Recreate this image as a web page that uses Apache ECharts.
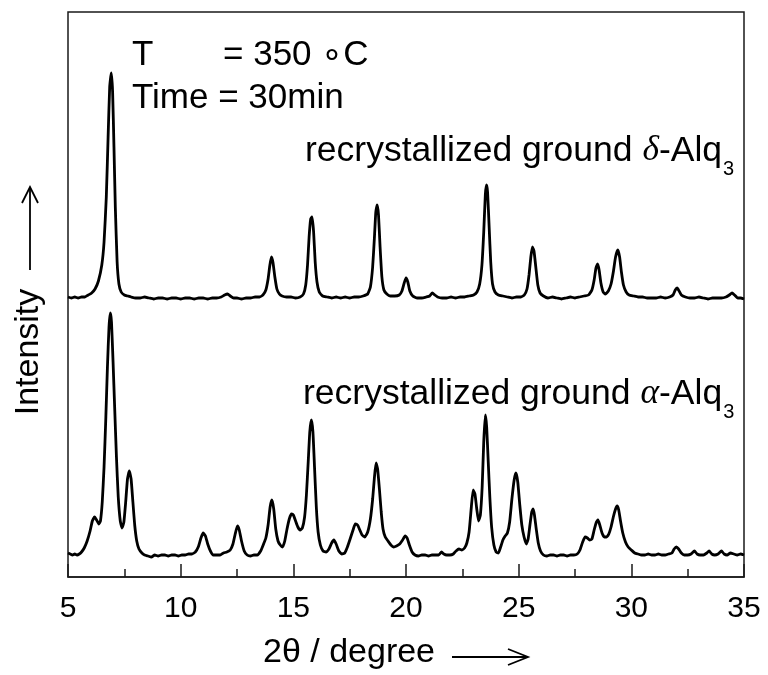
<!DOCTYPE html>
<html>
<head>
<meta charset="utf-8">
<script src="https://cdn.jsdelivr.net/npm/echarts@6/dist/echarts.min.js"></script>
<style>
  html, body { margin: 0; padding: 0; background: #fff; }
  #chart { width: 768px; height: 675px; }
</style>
</head>
<body>
<div id="chart"></div>
<script>
// 2θ (degree) and intensity (arb. units, stacked) for the delta trace (top)
const deltaTheta = [5.0,5.15,5.3,5.45,5.6,5.75,5.9,6.05,6.2,6.35,6.5,6.6,6.7,6.78,6.85,6.92,6.98,7.04,7.1,7.18,7.26,7.36,7.5,7.65,7.8,8.0,8.2,8.4,8.6,8.8,9.0,9.2,9.4,9.6,9.8,10.0,10.2,10.4,10.6,10.8,11.0,11.2,11.4,11.6,11.8,11.95,12.08,12.2,12.35,12.5,12.7,12.9,13.1,13.3,13.5,13.65,13.78,13.88,13.96,14.03,14.1,14.18,14.27,14.38,14.5,14.7,14.9,15.1,15.3,15.45,15.55,15.63,15.7,15.77,15.83,15.9,15.97,16.05,16.15,16.3,16.5,16.7,16.9,17.1,17.3,17.5,17.7,17.9,18.1,18.3,18.42,18.52,18.6,18.66,18.72,18.78,18.85,18.93,19.02,19.15,19.3,19.5,19.7,19.82,19.92,20.0,20.08,20.17,20.3,20.5,20.7,20.9,21.05,21.17,21.28,21.4,21.6,21.8,22.0,22.2,22.4,22.6,22.8,23.0,23.15,23.27,23.37,23.45,23.52,23.57,23.62,23.69,23.76,23.84,23.95,24.1,24.3,24.5,24.7,24.9,25.1,25.25,25.37,25.46,25.54,25.61,25.68,25.76,25.85,25.95,26.1,26.3,26.5,26.7,26.9,27.1,27.3,27.5,27.7,27.9,28.1,28.25,28.35,28.43,28.5,28.57,28.65,28.75,28.85,28.98,29.1,29.2,29.3,29.4,29.48,29.56,29.65,29.77,29.9,30.1,30.3,30.5,30.7,30.9,31.1,31.3,31.5,31.7,31.85,31.95,32.03,32.12,32.22,32.4,32.6,32.8,33.0,33.2,33.4,33.6,33.8,34.0,34.2,34.35,34.47,34.58,34.72,34.85,35.0];
const deltaIntensity = [280,279,280,279,280,280,282,284,288,296,312,335,380,440,490,504,485,430,370,315,293,285,282,281,280,279,279,280,279,278,279,279,278,279,279,278,279,279,278,279,279,278,279,279,280,282,283,281,279,279,278,279,279,280,280,282,287,298,312,320,314,300,288,283,281,280,280,279,280,283,292,312,340,358,360,345,315,295,285,281,280,279,280,279,280,279,280,280,281,283,290,310,340,365,372,362,330,300,287,283,281,281,282,286,294,299,295,286,281,279,279,280,281,284,282,280,279,279,280,279,280,280,281,282,285,293,312,345,382,392,385,350,315,293,285,282,281,280,279,280,280,282,288,302,320,330,326,310,292,284,281,279,280,279,278,279,280,279,280,281,282,287,297,309,313,307,294,285,283,286,293,305,320,327,320,305,292,285,282,281,280,280,279,279,279,280,279,280,282,287,289,286,282,280,279,279,280,279,278,279,279,279,280,282,284,282,279,279,278];

// 2θ (degree) and intensity for the alpha trace (bottom)
const alphaTheta = [5.0,5.1,5.2,5.3,5.4,5.5,5.6,5.72,5.85,5.98,6.08,6.18,6.27,6.37,6.44,6.52,6.6,6.68,6.75,6.82,6.88,6.93,7.0,7.07,7.15,7.23,7.32,7.4,7.48,7.56,7.64,7.72,7.8,7.88,7.96,8.05,8.15,8.28,8.4,8.55,8.7,8.85,9.0,9.15,9.3,9.45,9.6,9.75,9.9,10.05,10.2,10.35,10.5,10.65,10.78,10.9,11.0,11.1,11.2,11.32,11.45,11.6,11.75,11.9,12.05,12.2,12.32,12.42,12.52,12.6,12.7,12.82,12.95,13.1,13.25,13.4,13.55,13.68,13.78,13.88,13.97,14.05,14.13,14.22,14.32,14.42,14.52,14.62,14.72,14.82,14.92,15.0,15.1,15.2,15.3,15.4,15.5,15.58,15.66,15.73,15.8,15.87,15.94,16.02,16.1,16.2,16.32,16.45,16.58,16.7,16.8,16.9,17.02,17.15,17.28,17.4,17.52,17.65,17.75,17.85,17.95,18.05,18.17,18.3,18.42,18.52,18.6,18.67,18.74,18.82,18.9,18.98,19.08,19.2,19.33,19.45,19.58,19.72,19.85,19.96,20.05,20.15,20.27,20.4,20.55,20.7,20.85,21.0,21.15,21.3,21.45,21.58,21.68,21.8,21.95,22.1,22.22,22.35,22.48,22.6,22.7,22.8,22.9,22.98,23.06,23.14,23.22,23.3,23.38,23.45,23.52,23.58,23.65,23.72,23.8,23.9,24.0,24.1,24.2,24.3,24.4,24.5,24.6,24.7,24.8,24.88,24.96,25.05,25.14,25.24,25.34,25.42,25.5,25.58,25.64,25.7,25.78,25.87,25.97,26.1,26.25,26.4,26.55,26.7,26.85,27.0,27.15,27.3,27.45,27.6,27.72,27.84,27.95,28.05,28.15,28.25,28.35,28.45,28.52,28.6,28.7,28.8,28.9,29.0,29.1,29.2,29.3,29.37,29.44,29.52,29.62,29.74,29.86,30.0,30.15,30.3,30.45,30.6,30.75,30.9,31.05,31.2,31.35,31.5,31.65,31.8,31.9,32.0,32.1,32.22,32.35,32.5,32.65,32.8,32.92,33.05,33.2,33.35,33.45,33.57,33.7,33.85,34.0,34.12,34.25,34.4,34.55,34.7,34.85,35.0];
const alphaIntensity = [24,23,22,23,22,23,25,29,36,46,56,60,57,53,56,75,110,160,210,250,264,255,215,170,120,80,56,49,55,75,98,106,98,75,52,36,28,24,22,21,20,22,21,22,22,21,22,22,21,22,22,23,23,25,30,39,44,41,33,26,22,22,22,24,25,27,33,43,51,47,36,26,22,21,22,22,26,33,39,52,70,77,68,48,36,32,30,36,48,58,63,62,56,50,47,49,60,82,115,145,157,145,110,70,45,32,26,25,28,34,37,33,26,23,24,30,38,47,53,52,47,42,40,45,58,78,100,114,108,88,65,48,40,36,32,30,31,33,37,41,39,32,25,22,21,22,22,21,22,22,22,25,23,22,22,23,26,28,27,29,34,45,70,87,83,68,56,62,90,135,162,150,115,80,50,32,25,24,30,37,41,44,55,78,97,104,95,72,52,40,33,38,52,65,68,62,48,34,26,22,21,22,22,21,22,22,21,22,22,23,27,35,40,39,37,38,47,55,57,52,44,40,40,43,50,60,68,71,67,56,44,35,30,27,24,23,22,22,23,22,22,23,22,22,23,24,28,30,28,24,22,22,23,26,23,22,22,24,26,23,22,23,26,23,22,24,23,22,23,22];

const xMin = 5, xMax = 35, xStep = 5;
const seriesNames = ['recrystallized ground δ-Alq3', 'recrystallized ground α-Alq3'];

function pairs(xs, ys) { return xs.map((x, i) => [x, ys[i]]); }

const FONT = '"Liberation Sans", Arial, sans-serif';
const chart = echarts.init(document.getElementById('chart'), null, { renderer: 'canvas' });

const labelRich = {
  n: { fontSize: 35.5, fontFamily: FONT, color: '#000', lineHeight: 36 },
  i: { fontSize: 35.5, fontFamily: '"Liberation Serif", "Times New Roman", serif', fontStyle: 'italic', color: '#000', lineHeight: 36 },
  s: { fontSize: 20, fontFamily: FONT, color: '#000', lineHeight: 36, padding: [36, 0, 0, 1] }
};

chart.setOption({
  animation: false,
  backgroundColor: '#fff',
  grid: { left: 68, right: 24, top: 12, bottom: 98, show: true, borderColor: '#1a1a1a', borderWidth: 1.5, backgroundColor: 'transparent' },
  xAxis: {
    type: 'value', min: xMin, max: xMax, interval: xStep,
    axisLine: { show: true, lineStyle: { color: '#1a1a1a', width: 1.5 } },
    axisTick: { show: true, inside: true, length: 13, lineStyle: { color: '#1a1a1a', width: 1.5 } },
    minorTick: { show: true, splitNumber: 2, length: 8, lineStyle: { color: '#1a1a1a', width: 1.5 } },
    splitLine: { show: false },
    axisLabel: { fontSize: 30, fontFamily: FONT, color: '#000', margin: 17 }
  },
  yAxis: { type: 'value', min: 0, max: 565, show: false },
  series: [
    { name: seriesNames[0], type: 'line', data: pairs(deltaTheta, deltaIntensity), showSymbol: false, smooth: 0.15,
      lineStyle: { color: '#000', width: 2.8 } },
    { name: seriesNames[1], type: 'line', data: pairs(alphaTheta, alphaIntensity), showSymbol: false, smooth: 0.15,
      lineStyle: { color: '#000', width: 2.8 } }
  ],
  graphic: [
    { type: 'text', x: 132, y: 55, style: { text: 'T', font: '35px ' + FONT, fill: '#000', verticalAlign: 'middle', align: 'left' } },
    { type: 'text', x: 223, y: 55, style: { text: '= 350 \u2218C', font: '35px ' + FONT, fill: '#000', verticalAlign: 'middle', align: 'left' } },
    { type: 'text', x: 132, y: 98, style: { text: 'Time = 30min', font: '35px ' + FONT, fill: '#000', verticalAlign: 'middle', align: 'left' } },
    { type: 'text', x: 305, y: 151, style: { text: '{n|recrystallized ground }{i|δ}{n|-Alq}{s|3}', rich: labelRich, verticalAlign: 'middle', align: 'left' } },
    { type: 'text', x: 303, y: 394, style: { text: '{n|recrystallized ground }{i|α}{n|-Alq}{s|3}', rich: labelRich, verticalAlign: 'middle', align: 'left' } },
    { type: 'text', x: 263, y: 653, style: { text: '2θ / degree', font: '34px ' + FONT, fill: '#000', verticalAlign: 'middle', align: 'left' } },
    { type: 'polyline', shape: { points: [[452, 657], [527, 657]] }, style: { stroke: '#000', lineWidth: 1.8, fill: null } },
    { type: 'polyline', shape: { points: [[508, 649], [528, 657], [508, 665]] }, style: { stroke: '#000', lineWidth: 1.8, fill: null } },
    { type: 'text', x: 29, y: 352, rotation: Math.PI / 2, style: { text: 'Intensity', font: '34px ' + FONT, fill: '#000', verticalAlign: 'middle', align: 'center' } },
    { type: 'polyline', shape: { points: [[30, 270], [30, 188]] }, style: { stroke: '#000', lineWidth: 1.8, fill: null } },
    { type: 'polyline', shape: { points: [[22, 203], [30, 187], [38, 203]] }, style: { stroke: '#000', lineWidth: 1.8, fill: null } }
  ]
});
</script>
</body>
</html>
